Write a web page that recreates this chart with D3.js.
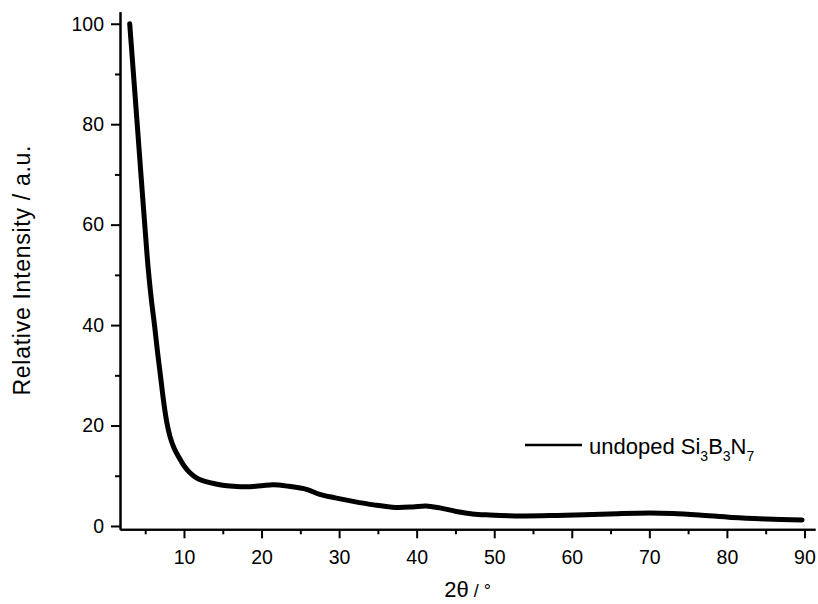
<!DOCTYPE html>
<html>
<head>
<meta charset="utf-8">
<script src="https://cdn.jsdelivr.net/npm/d3@7"></script>
<style>
	body { margin: 0; background: #fff; }
	text { font-family: "Liberation Sans", Arial, sans-serif; fill: #000; }
</style>
</head>
<body>
<div id="chart"></div>
<script>
// diffraction pattern
var twoTheta = [3.0, 3.5, 4.0, 4.5, 5.0, 5.4, 5.8, 6.2, 6.6, 7.0, 7.4, 7.8, 8.2, 8.7, 9.3, 10.0, 10.7, 11.5, 12.5, 13.7, 15.0, 16.5, 18.0, 20.0, 21.5, 23.5, 25.8, 27.5, 29.5, 31.8, 34.5, 37.3, 39.5, 41.2, 43.0, 45.1, 47.2, 49.4, 53.6, 58.0, 64.8, 70.0, 73.0, 76.4, 80.7, 85.0, 89.7];
var intensity = [100, 89.7, 79.4, 69.0, 58.8, 51.0, 45.0, 40.0, 34.5, 29.5, 24.5, 20.5, 17.8, 15.6, 13.8, 12.0, 10.7, 9.7, 9.0, 8.5, 8.1, 7.9, 7.8, 8.0, 8.2, 7.9, 7.3, 6.3, 5.6, 4.9, 4.2, 3.7, 3.8, 4.0, 3.6, 2.9, 2.4, 2.2, 2.0, 2.1, 2.4, 2.6, 2.5, 2.2, 1.7, 1.4, 1.2];

var xTicks = [10, 20, 30, 40, 50, 60, 70, 80, 90];
var xMinor = [5, 15, 25, 35, 45, 55, 65, 75, 85];
var yTicks = [0, 20, 40, 60, 80, 100];
var yMinor = [10, 30, 50, 70, 90];

var seriesName = ["undoped Si", "3", "B", "3", "N", "7"];

var W = 818, H = 604;
var margin = { left: 120, top: 11.7, right: 3, bottom: 74.7 };
var w = W - margin.left - margin.right;
var h = H - margin.top - margin.bottom;

var svg = d3.select("#chart").append("svg")
	.attr("width", W)
	.attr("height", H);

var g = svg.append("g")
	.attr("transform", "translate(" + margin.left + "," + margin.top + ")");

var x = d3.scaleLinear().domain([1.75, 91.36]).range([0, w]);
var y = d3.scaleLinear().domain([-0.66, 102.4]).range([h, 0]);

// axes
g.append("g")
	.attr("transform", "translate(0," + h + ")")
	.call(d3.axisBottom(x).tickValues(xTicks).tickSize(9).tickPadding(12).tickSizeOuter(0));
g.append("g")
	.attr("transform", "translate(0," + h + ")")
	.call(d3.axisBottom(x).tickValues(xMinor).tickSize(5).tickFormat("").tickSizeOuter(0));

g.append("g")
	.call(d3.axisLeft(y).tickValues(yTicks).tickSize(9).tickPadding(7).tickSizeOuter(0));
g.append("g")
	.call(d3.axisLeft(y).tickValues(yMinor).tickSize(5).tickFormat("").tickSizeOuter(0));

g.selectAll(".domain").attr("stroke", "#000").attr("stroke-width", 2);
g.selectAll(".tick line").attr("stroke", "#000").attr("stroke-width", 2);
g.selectAll(".tick text")
	.style("font-family", "Liberation Sans, Arial, sans-serif")
	.style("font-size", "19.5px")
	.attr("fill", "#000");

// curve
var points = twoTheta.map(function(d, i) { return [d, intensity[i]]; });
var line = d3.line()
	.x(function(d) { return x(d[0]); })
	.y(function(d) { return y(d[1]); })
	.curve(d3.curveCatmullRom.alpha(0.5));

g.append("path")
	.datum(points)
	.attr("fill", "none")
	.attr("stroke", "#000")
	.attr("stroke-width", 5)
	.attr("stroke-linejoin", "round")
	.attr("stroke-linecap", "round")
	.attr("d", line);

// axis titles
svg.append("text")
	.attr("transform", "translate(30," + (margin.top + h / 2) + ") rotate(-90)")
	.attr("text-anchor", "middle")
	.attr("textLength", 250)
	.attr("lengthAdjust", "spacing")
	.style("font-size", "23px")
	.text("Relative Intensity / a.u.");

var xt = svg.append("text")
	.attr("x", margin.left + w / 2)
	.attr("y", 597)
	.attr("text-anchor", "middle");
xt.append("tspan").style("font-size", "22px").text("2θ");
xt.append("tspan").style("font-size", "18px").text(" / °");

// legend
var lg = svg.append("g").attr("transform", "translate(525,445)");
lg.append("line")
	.attr("x1", 0).attr("x2", 57)
	.attr("y1", 0).attr("y2", 0)
	.attr("stroke", "#000").attr("stroke-width", 2.5);
var lt = lg.append("text")
	.attr("x", 64)
	.attr("y", 9)
	.style("font-size", "22px");
seriesName.forEach(function(s, i) {
	var sub = i % 2 === 1;
	lt.append("tspan")
		.attr("dy", i === 0 ? 0 : (sub ? 7 : -7))
		.style("font-size", sub ? "14px" : "22px")
		.text(s);
});
</script>
</body>
</html>
